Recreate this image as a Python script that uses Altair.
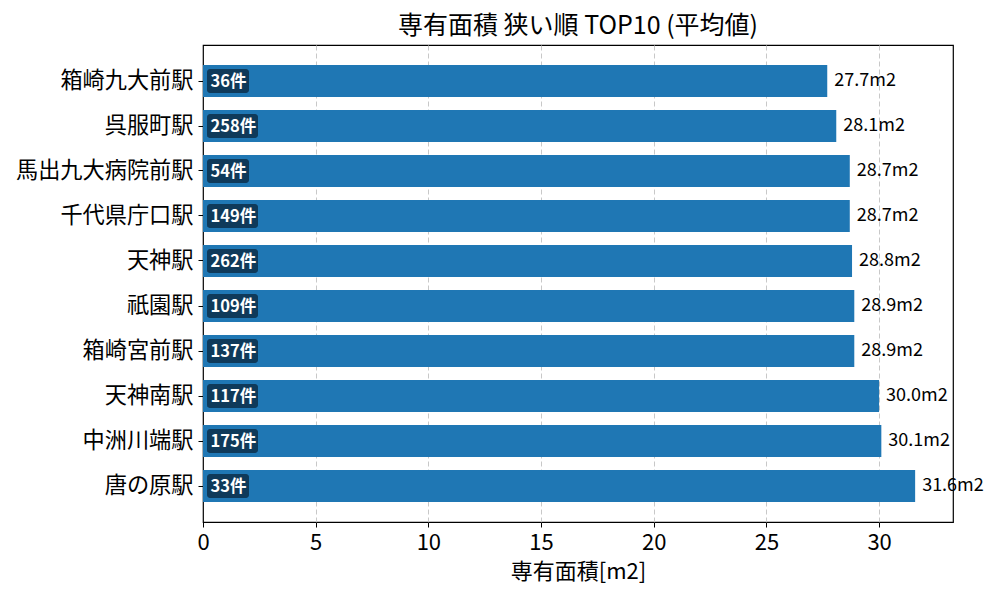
import altair as alt
import pandas as pd

stations = ["箱崎九大前駅", "呉服町駅", "馬出九大病院前駅", "千代県庁口駅", "天神駅",
            "祇園駅", "箱崎宮前駅", "天神南駅", "中洲川端駅", "唐の原駅"]
areas = [27.7, 28.1, 28.7, 28.7, 28.8, 28.9, 28.9, 30.0, 30.1, 31.6]
counts = [36, 258, 54, 149, 262, 109, 137, 117, 175, 33]

df = pd.DataFrame({"station": stations, "area": areas, "count": counts})
df["value_label"] = [f"{a:.1f}m2" for a in areas]
df["count_label"] = [f"{c}件" for c in counts]

W, H = 750, 477
XMAX = 33.28
FONT = "Noto Sans CJK JP"
u = XMAX / W  # data units per pixel

y_enc = alt.Y("station:N", sort=stations, title=None,
              scale=alt.Scale(paddingInner=0.29, paddingOuter=0.445),
              axis=alt.Axis(labelFont=FONT, labelFontSize=22.2, labelColor="black",
                            tickColor="black", tickSize=5, labelPadding=5,
                            domain=False, grid=False))
x_scale = alt.Scale(domain=[0, XMAX], nice=False, zero=True)
x_axis = alt.Axis(values=[0, 5, 10, 15, 20, 25, 30], format="d", title="専有面積[m2]",
                  titleFont=FONT, titleFontSize=22, titleFontWeight="normal", titleColor="black",
                  titlePadding=8,
                  labelFont=FONT, labelFontSize=22, labelColor="black", labelPadding=5,
                  labelFlush=False,
                  tickColor="black", tickSize=5, domain=False,
                  grid=True, gridColor="#c8c8c8", gridDash=[5, 3], gridWidth=1,
                  gridOpacity={"condition": {"test": "datum.value === 0", "value": 0}, "value": 1})

base = alt.Chart(df)

bars = base.mark_bar(color="#1f77b4", size=32).encode(
    x=alt.X("area:Q", scale=x_scale, axis=x_axis),
    y=y_enc,
)

values = base.mark_text(align="left", baseline="middle", dx=7, font=FONT,
                        fontSize=18, color="black").encode(
    x=alt.X("area:Q"), y=alt.Y("station:N", sort=stations), text="value_label:N"
)

badges = base.transform_calculate(
    b0=f"4*{u}",
    b1=f"(4 + 24 + 9*length(toString(datum.count)))*{u}",
).mark_bar(color="#0f3a5a", size=24, cornerRadius=3).encode(
    x=alt.X("b0:Q"), x2="b1:Q", y=alt.Y("station:N", sort=stations)
)

badge_text = base.transform_calculate(t0=f"7.5*{u}").mark_text(
    align="left", baseline="middle", font=FONT, fontSize=16.5, fontWeight="bold",
    color="white", dy=0.5
).encode(x=alt.X("t0:Q"), y=alt.Y("station:N", sort=stations), text="count_label:N")

chart = alt.layer(bars, values, badges, badge_text).properties(
    width=W, height=H,
    background="white",
    title=alt.TitleParams("専有面積 狭い順 TOP10 (平均値)", font=FONT, fontSize=25,
                          fontWeight="normal", color="black", anchor="middle", offset=6),
    autosize=alt.AutoSizeParams(type="none"),
    padding={"left": 195, "top": 37, "right": 39, "bottom": 70},
).configure_view(stroke="black", strokeWidth=1.2)

chart.save("out.html", embed_options={"renderer": "svg", "actions": False})
